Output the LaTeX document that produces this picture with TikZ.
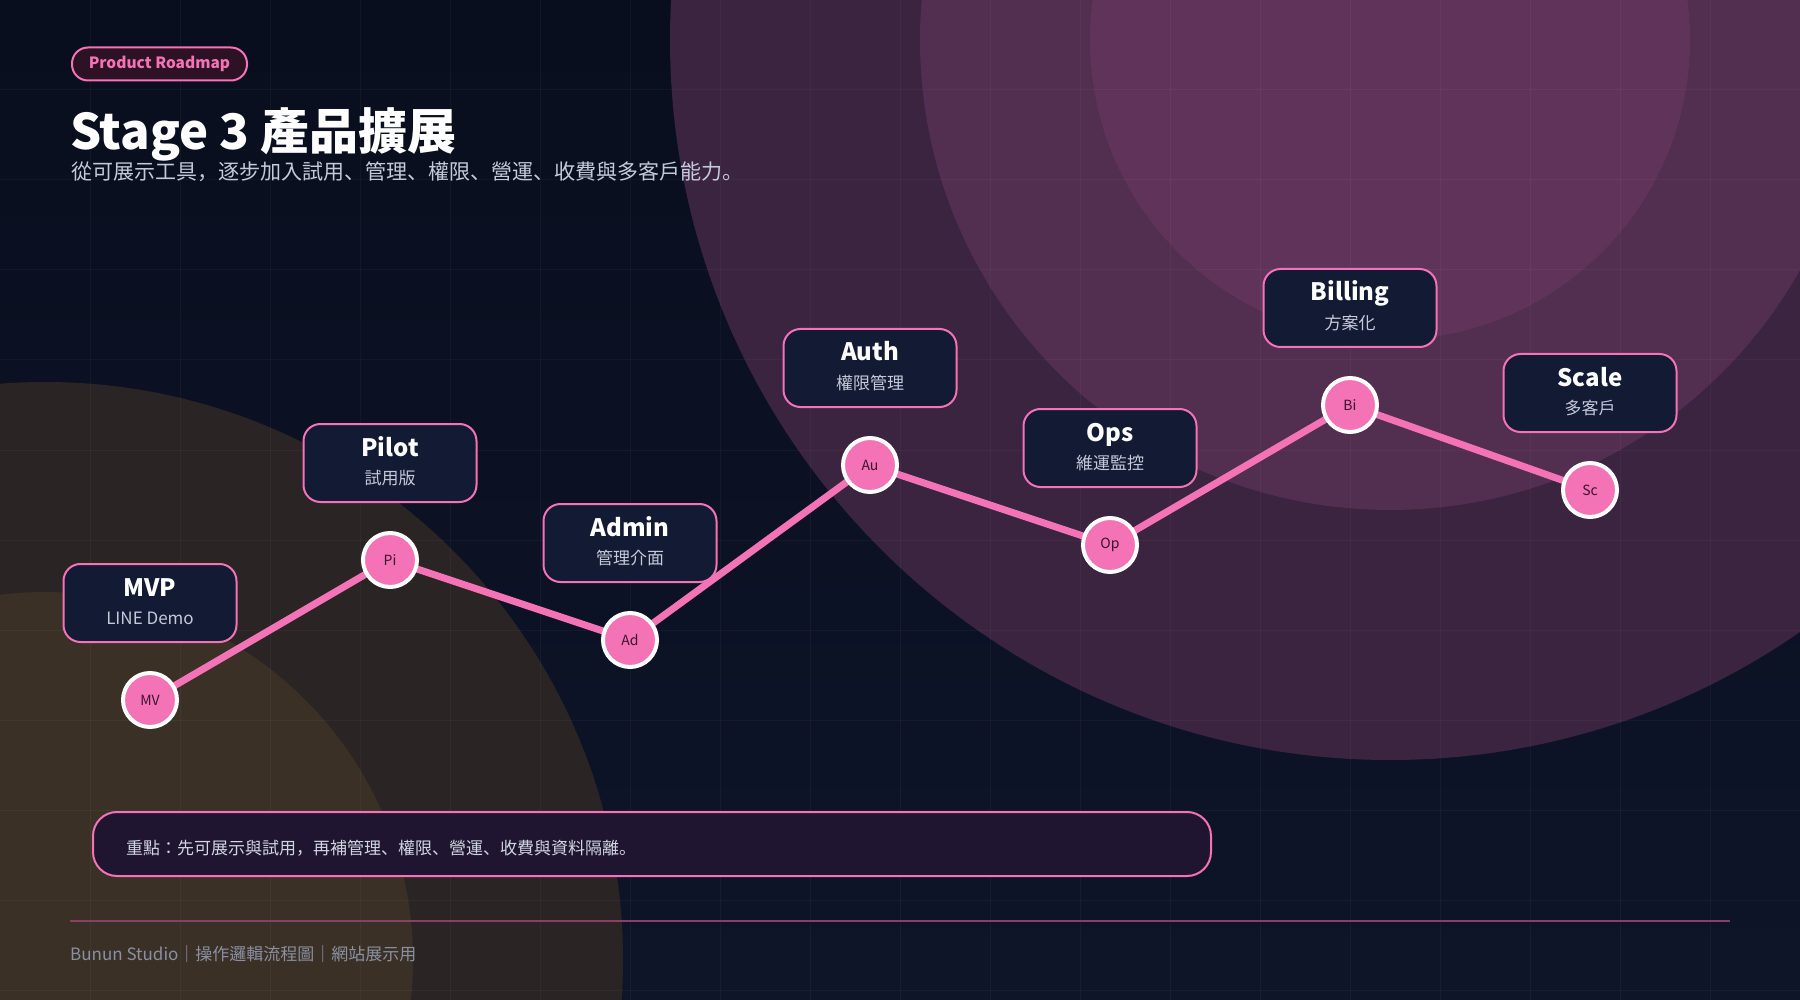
\documentclass[tikz,border=0pt]{standalone}
\usepackage{fontspec}
\setmainfont{Noto Sans CJK JP}
\definecolor{bgA}{HTML}{090E1E}
\definecolor{bgB}{HTML}{0E1529}
\definecolor{pinkA}{HTML}{3A2440}
\definecolor{pinkB}{HTML}{522E50}
\definecolor{pinkC}{HTML}{60345A}
\definecolor{brownA}{HTML}{2A2425}
\definecolor{brownB}{HTML}{3A3026}
\definecolor{accent}{HTML}{F472B6}
\definecolor{boxfill}{HTML}{131A33}
\definecolor{subtxt}{HTML}{C5CADB}
\definecolor{dotTxt}{HTML}{3A1430}
\definecolor{noteFill}{HTML}{1F1530}
\definecolor{pillFill}{HTML}{2C1224}
\definecolor{footTxt}{HTML}{8A90A2}
\definecolor{sepLine}{HTML}{8E3C68}
\pgfdeclarelayer{bg}
\pgfsetlayers{bg,main}
\begin{document}
\begin{tikzpicture}[x=1pt,y=-1pt,
  stagebox/.style={draw=accent, line width=2pt, fill=boxfill, rounded corners=17pt, minimum width=173pt, minimum height=78pt, inner sep=0pt},
  boxtitle/.style={text=white, font=\bfseries\fontsize{24}{28}\selectfont, inner sep=0pt, anchor=base},
  boxsub/.style={text=subtxt, font=\fontsize{17}{20}\selectfont, inner sep=0pt},
  dot/.style={circle, fill=accent, draw=white, line width=4pt, minimum size=54pt, inner sep=0pt, text=dotTxt, font=\fontsize{14}{16}\selectfont},
  link/.style={draw=accent, line width=7pt, line join=round},
  gridline/.style={draw=white, opacity=0.035, line width=1pt}]
\useasboundingbox (0,0) rectangle (1800,1000);
\begin{pgfonlayer}{bg}
\begin{scope}
\clip (0,0) rectangle (1800,1000);
\shade[top color=bgA, bottom color=bgB] (0,0) rectangle (1800,1000);
\fill[brownA] (45,960) circle[radius=578pt];
\fill[brownB] (45,960) circle[radius=368pt];
\fill[pinkA] (1390,40) circle[radius=720pt];
\fill[pinkB] (1390,40) circle[radius=470pt];
\fill[pinkC] (1390,40) circle[radius=300pt];
\foreach \x in {90,180,...,1710} \draw[gridline] (\x,0) -- (\x,1000);
\foreach \y in {90,180,...,990} \draw[gridline] (0,\y) -- (1800,\y);
\end{scope}
\end{pgfonlayer}

% header
\node[draw=accent, line width=2pt, fill=pillFill, rounded corners=16pt, minimum height=33pt, minimum width=175pt, inner sep=0pt, text=accent, font=\bfseries\fontsize{15.5}{18}\selectfont, anchor=west] (pill) at (71,64) {Product Roadmap};
\node[anchor=base west, text=white, font=\bfseries\fontsize{49}{56}\selectfont, inner sep=0pt] (title) at (70,150) {Stage 3 產品擴展};
\node[anchor=west, text=subtxt, font=\fontsize{21}{24}\selectfont, inner sep=0pt] (subtitle) at (71,172) {從可展示工具，逐步加入試用、管理、權限、營運、收費與多客戶能力。};

% stages
\foreach \n/\x/\y/\t/\s in {MV/150/700/MVP/LINE Demo, Pi/390/560/Pilot/試用版, Ad/630/640/Admin/管理介面, Au/870/465/Auth/權限管理, Op/1110/545/Ops/維運監控, Bi/1350/405/Billing/方案化, Sc/1590/490/Scale/多客戶}{
  \node[dot] (\n) at (\x,\y) {\n};
  \node[stagebox] (box\n) at (\x,\y-97) {};
  \node[boxtitle] (title\n) at ([yshift=7pt]box\n.center) {\t};
  \node[boxsub] (sub\n) at ([yshift=-15pt]box\n.center) {\s};
}
\begin{pgfonlayer}{bg}
\draw[link] (MV.center) -- (Pi.center) -- (Ad.center) -- (Au.center) -- (Op.center) -- (Bi.center) -- (Sc.center);
\end{pgfonlayer}

% note
\node[draw=accent, line width=2pt, fill=noteFill, rounded corners=24pt, minimum width=1118pt, minimum height=64pt, inner sep=0pt, anchor=north west] (note) at (92,811) {};
\node[anchor=west, text=subtxt!80!white, font=\fontsize{17}{20}\selectfont, inner sep=0pt] (notetext) at (126,848) {重點：先可展示與試用，再補管理、權限、營運、收費與資料隔離。};

% footer
\coordinate (sepL) at (70,921);
\coordinate (sepR) at (1730,921);
\draw[sepLine, line width=2pt] (sepL) -- (sepR);
\node[anchor=west, text=footTxt, font=\fontsize{17}{20}\selectfont, inner sep=0pt] (footer) at (70,954) {Bunun Studio｜操作邏輯流程圖｜網站展示用};
\end{tikzpicture}
\end{document}
